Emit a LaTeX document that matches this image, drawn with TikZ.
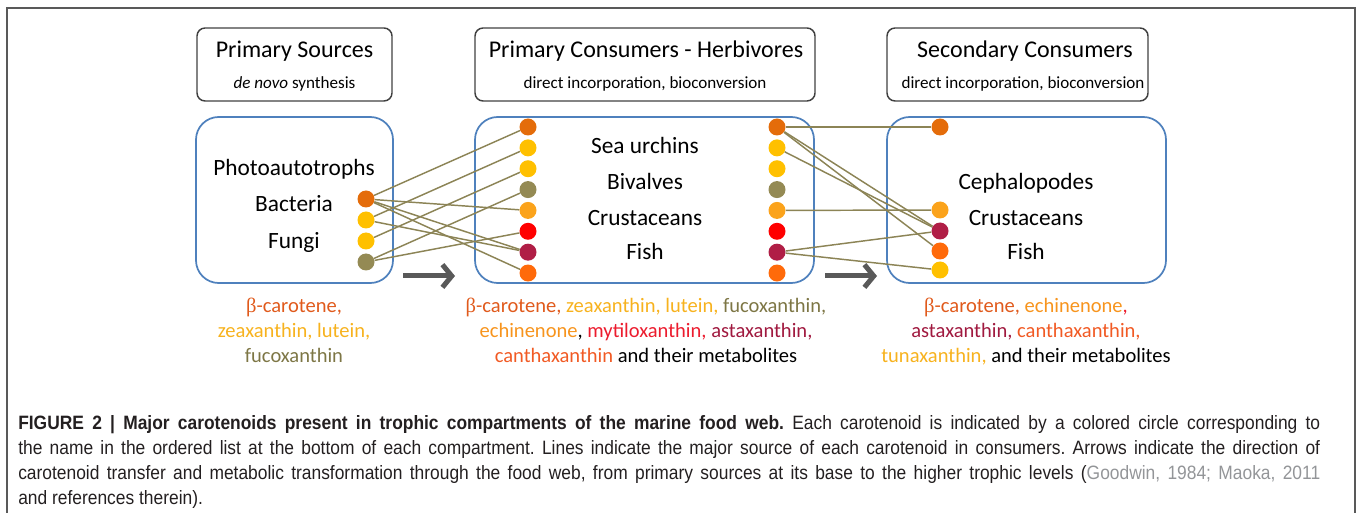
\documentclass[tikz,border=0pt]{standalone}
\usepackage{fontspec}
\setmainfont{Carlito}
\newfontfamily\grk{Liberation Serif}
\newfontfamily\capfont[FakeStretch=0.9]{Liberation Sans}
\usetikzlibrary{arrows.meta}
\definecolor{hdrgray}{HTML}{404040}
\definecolor{compblue}{HTML}{4F81BD}
\definecolor{linkcol}{HTML}{8C8456}
\definecolor{arrgray}{HTML}{595959}
\definecolor{cBeta}{HTML}{E46C0A}
\definecolor{cZea}{HTML}{FFC000}
\definecolor{cFuco}{HTML}{948A54}
\definecolor{cEchi}{HTML}{FBA31B}
\definecolor{cMyti}{HTML}{FF0000}
\definecolor{cAsta}{HTML}{B01E46}
\definecolor{cCan}{HTML}{FF6A0A}
\definecolor{tBeta}{HTML}{E05A1C}
\definecolor{tZea}{HTML}{F7B21E}
\definecolor{tFuco}{HTML}{7D7645}
\definecolor{tEchi}{HTML}{F7941D}
\definecolor{tMyti}{HTML}{EC1C2E}
\definecolor{tAsta}{HTML}{A0193F}
\definecolor{tCan}{HTML}{F15A24}
\definecolor{captxt}{HTML}{231F20}
\definecolor{capref}{HTML}{939598}
\frenchspacing
\begin{document}
\begin{tikzpicture}[x=0.75pt,y=-0.75pt,
  hdr/.style={draw=hdrgray, line width=1.1pt, rounded corners=6pt, minimum height=54.75pt, inner sep=0pt},
  comp/.style={draw=compblue, line width=1.3pt, rounded corners=17pt, minimum height=124.5pt, inner sep=0pt},
  dot/.style={circle, inner sep=0pt, minimum size=12.75pt},
  lnk/.style={draw=linkcol, line width=1.1pt},
  ttl/.style={font=\fontsize{18}{21}\selectfont, anchor=base, inner sep=0pt},
  sub/.style={font=\fontsize{12.8}{15}\selectfont, anchor=base, inner sep=0pt},
  org/.style={font=\fontsize{17.5}{21}\selectfont, anchor=base, inner sep=0pt},
  lst/.style={font=\fontsize{15.4}{18}\selectfont, anchor=base, inner sep=0pt},
  captext/.style={font=\capfont\fontsize{14.5}{17}\selectfont, text=captxt, anchor=base west, inner sep=0pt},
  bigarrow/.style={draw=arrgray, line width=3.75pt, -{Straight Barb[length=7pt,width=17pt]}}
]
\useasboundingbox (0,0) rectangle (1357,513);
% frame
\draw[line width=1.5pt, draw=black!65] (7,513) -- (7,8) -- (1355,8) -- (1355,513);

% header boxes
\node[hdr, minimum width=146.25pt] (h1) at (294.5,64.5) {};
\node[hdr, minimum width=255pt] (h2) at (645,64.5) {};
\node[hdr, minimum width=195.75pt] (h3) at (1017.5,64.5) {};
\node[ttl] (t1) at (294.5,58) {Primary Sources};
\node[sub] (s1) at (294.5,89) {\textit{de novo} synthesis};
\node[ttl] (t2) at (646,58) {Primary Consumers - Herbivores};
\node[sub] (s2) at (645,89) {direct incorporation, bioconversion};
\node[ttl] (t3) at (1025,58) {Secondary Consumers};
\node[sub] (s3) at (1023,89) {direct incorporation, bioconversion};

% compartments
\node[comp, minimum width=147.75pt] (b1) at (294.5,200) {};
\node[comp, minimum width=254.25pt] (b2) at (644.5,200) {};
\node[comp, minimum width=209.25pt] (b3) at (1026.5,200) {};

\node[org] (o11) at (294,176) {Photoautotrophs};
\node[org] (o12) at (294,212) {Bacteria};
\node[org] (o13) at (294,249) {Fungi};
\node[org] (o21) at (645,154) {Sea urchins};
\node[org] (o22) at (645,190) {Bivalves};
\node[org] (o23) at (645,226) {Crustaceans};
\node[org] (o24) at (645,260) {Fish};
\node[org] (o31) at (1026,190) {Cephalopodes};
\node[org] (o32) at (1026,226) {Crustaceans};
\node[org] (o33) at (1026,260) {Fish};

% dots, box 1
\node[dot, fill=cBeta] (p1) at (366,199) {};
\node[dot, fill=cZea]  (p2) at (366,220) {};
\node[dot, fill=cZea]  (p3) at (366,241) {};
\node[dot, fill=cFuco] (p4) at (366,262) {};
% dots, box 2 left and right
\foreach \n/\c [count=\k from 0] in {1/cBeta,2/cZea,3/cZea,4/cFuco,5/cEchi,6/cMyti,7/cAsta,8/cCan}{
  \node[dot, fill=\c] (L\n) at (528,127+20.86*\k) {};
  \node[dot, fill=\c] (R\n) at (777,127+20.86*\k) {};
}
% dots, box 3
\node[dot, fill=cBeta] (T1) at (940,127) {};
\node[dot, fill=cEchi] (T2) at (940,210) {};
\node[dot, fill=cAsta] (T3) at (940,231) {};
\node[dot, fill=cCan]  (T4) at (940,251) {};
\node[dot, fill=cZea]  (T5) at (940,270) {};

% links
\draw[lnk] (p1) -- (L1);
\draw[lnk] (p1) -- (L5);
\draw[lnk] (p1) -- (L7);
\draw[lnk] (p1) -- (L8);
\draw[lnk] (p2) -- (L2);
\draw[lnk] (p2) -- (L7);
\draw[lnk] (p3) -- (L3);
\draw[lnk] (p4) -- (L4);
\draw[lnk] (p4) -- (L6);
\draw[lnk] (R1) -- (T1);
\draw[lnk] (R1) -- (T3);
\draw[lnk] (R1) -- (T4);
\draw[lnk] (R2) -- (T3);
\draw[lnk] (R5) -- (T2);
\draw[lnk] (R7) -- (T3);
\draw[lnk] (R7) -- (T5);

% arrows
\coordinate (a1s) at (403,276);
\coordinate (a1e) at (455,276);
\coordinate (a2s) at (825,276);
\coordinate (a2e) at (877,276);
\draw[bigarrow] (a1s) -- (a1e);
\draw[bigarrow] (a2s) -- (a2e);

% carotenoid lists
\node[lst] (c11) at (294,313) {\color{tBeta}{\grk β}-carotene,};
\node[lst] (c12) at (294,338) {\color{tZea}zeaxanthin, lutein,};
\node[lst] (c13) at (294,363) {\color{tFuco}fucoxanthin};
\node[lst] (c21) at (646,313) {{\color{tBeta}{\grk β}-carotene, }{\color{tZea}zeaxanthin, lutein, }{\color{tFuco}fucoxanthin,}};
\node[lst] (c22) at (646,338) {{\color{tEchi}echinenone}, {\color{tMyti}mytiloxanthin, }{\color{tAsta}astaxanthin,}};
\node[lst] (c23) at (646,363) {{\color{tCan}canthaxanthin} and their metabolites};
\node[lst] (c31) at (1026,313) {{\color{tBeta}{\grk β}-carotene, }{\color{tEchi}echinenone}{\color{tMyti},}};
\node[lst] (c32) at (1026,338) {{\color{tAsta}astaxanthin, }{\color{tCan}canthaxanthin,}};
\node[lst] (c33) at (1026,363) {{\color{tZea}tunaxanthin, }and their metabolites};

% caption
\node[captext] (k1) at (18,429) {\makebox[976.5pt][s]{\bfseries FIGURE 2 | Major carotenoids present in trophic compartments of the marine food web. \mdseries Each carotenoid is indicated by a colored circle corresponding to}};
\node[captext] (k2) at (18,454) {\makebox[976.5pt][s]{the name in the ordered list at the bottom of each compartment. Lines indicate the major source of each carotenoid in consumers. Arrows indicate the direction of}};
\node[captext] (k3) at (18,479) {\makebox[976.5pt][s]{carotenoid transfer and metabolic transformation through the food web, from primary sources at its base to the higher trophic levels ({\color{capref}Goodwin, 1984; Maoka, 2011}}};
\node[captext] (k4) at (18,504) {and references therein).};
\end{tikzpicture}
\end{document}
